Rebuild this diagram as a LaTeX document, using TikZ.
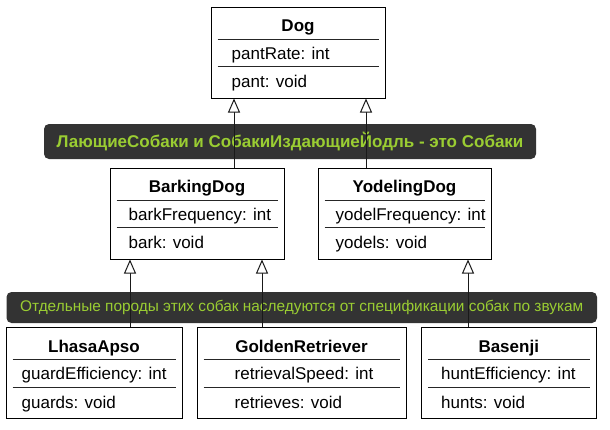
\documentclass[tikz,border=0pt]{standalone}
\usepackage{fontspec}
\setmainfont{Liberation Sans}
\usetikzlibrary{arrows.meta}
\definecolor{bannerbg}{HTML}{333333}
\definecolor{bannerfg}{HTML}{9ACD32}
\tikzset{
  classbox/.style={draw=black, line width=1pt, fill=white, inner sep=0pt},
  classtitle/.style={font=\fontsize{17}{20}\selectfont\bfseries, inner sep=0pt, text height=12pt, text depth=0pt, anchor=center},
  member/.style={font=\fontsize{17}{20}\selectfont, inner sep=0pt, text height=12pt, text depth=0pt, anchor=west},
  sepline/.style={line width=1pt, draw=black!85},
  banner/.style={fill=bannerbg, rounded corners=5pt, inner sep=0pt, text=bannerfg},
  inherit/.style={line width=1pt, draw=black!90, -{Triangle[open, length=14pt, width=12pt, fill=white]}},
}
\newcommand\umlclass[9]{%
  \node[classbox, minimum width=#4pt, minimum height=#5pt] (#1) at (#2,#3) {};
  \node[classtitle] (#1-t) at ([yshift=-19pt]#1.north) {#7};
  \node[member] (#1-a) at ([xshift=#6pt,yshift=-46.5pt]#1.north west) {#8};
  \node[member] (#1-o) at ([xshift=#6pt,yshift=-75pt]#1.north west) {#9};
  \draw[sepline] ([xshift=7pt,yshift=-32.5pt]#1.north west) -- ([xshift=-7pt,yshift=-32.5pt]#1.north east);
  \draw[sepline] ([xshift=7pt,yshift=-60pt]#1.north west) -- ([xshift=-7pt,yshift=-60pt]#1.north east);
}
\begin{document}
\begin{tikzpicture}[x=1pt,y=-1pt]
\useasboundingbox (0,0) rectangle (610,429);
\fill[white] (0,0) rectangle (610,429);

\umlclass{dog}{298}{52.5}{174}{91}{21}{Dog}{pantRate: int}{pant: void}
\umlclass{barking}{197}{213.5}{174}{91}{19}{BarkingDog}{barkFrequency: int}{bark: void}
\umlclass{yodel}{404.5}{213.5}{173}{91}{18}{YodelingDog}{yodelFrequency: int}{yodels: void}
\umlclass{lhasa}{94}{373}{176}{91}{16}{LhasaApso}{guardEfficiency: int}{guards: void}
\umlclass{golden}{301.5}{373}{209}{91}{38}{GoldenRetriever}{retrievalSpeed: int}{retrieves: void}
\umlclass{basenji}{508.75}{373}{174.5}{91}{20}{Basenji}{huntEfficiency: int}{hunts: void}

\node[banner, minimum width=492pt, minimum height=35pt, font=\fontsize{17}{20}\selectfont\bfseries] (b1) at (290,141.5) {ЛающиеСобаки и СобакиИздающиеЙодль - это Собаки};
\node[banner, minimum width=590.5pt, minimum height=31pt, font=\fontsize{15.4}{18}\selectfont] (b2) at (301.75,307.5) {Отдельные породы этих собак наследуются от спецификации собак по звукам};

\draw[inherit] ([xshift=37pt]barking.north) -- ([xshift=-64pt]dog.south);
\draw[inherit] ([xshift=-38.5pt]yodel.north) -- ([xshift=68pt]dog.south);
\draw[inherit] ([xshift=36pt]lhasa.north) -- ([xshift=-67pt]barking.south);
\draw[inherit] ([xshift=-39.5pt]golden.north) -- ([xshift=65pt]barking.south);
\draw[inherit] ([xshift=-40.75pt]basenji.north) -- ([xshift=63.5pt]yodel.south);
\end{tikzpicture}
\end{document}
